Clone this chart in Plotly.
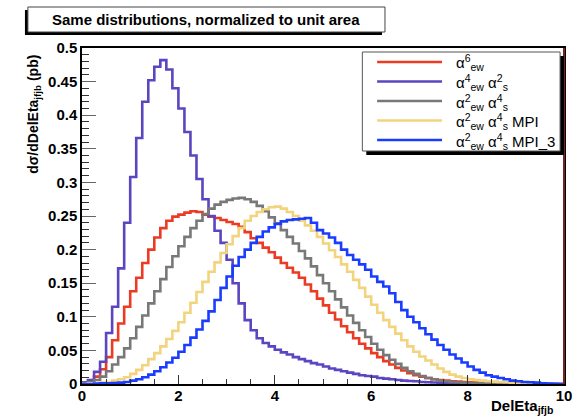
import numpy as np
import plotly.graph_objects as go

# ---- histogram contents (normalized to unit area), 80 bins on [0, 10] ----
BIN_WIDTH = 0.125
X_LO, X_HI = 0.0, 10.0

ew6 = [0.002, 0.005, 0.011, 0.022, 0.040, 0.065, 0.090, 0.115,
       0.138, 0.158, 0.180, 0.200, 0.218, 0.232, 0.243, 0.249,
       0.252, 0.255, 0.257, 0.256, 0.252, 0.249, 0.247, 0.244,
       0.241, 0.238, 0.234, 0.226, 0.217, 0.210, 0.203, 0.196,
       0.188, 0.180, 0.173, 0.166, 0.158, 0.148, 0.138, 0.127,
       0.117, 0.106, 0.096, 0.086, 0.077, 0.068, 0.060, 0.053,
       0.046, 0.040, 0.034, 0.029, 0.024, 0.020, 0.016, 0.013,
       0.011, 0.009, 0.007, 0.006, 0.005, 0.004, 0.0035, 0.003,
       0.0025, 0.002, 0.0017, 0.0014, 0.0012, 0.001, 0.0008, 0.0006,
       0.0005, 0.0004, 0.0003, 0.0002, 0.0002, 0.0001, 0.0001, 0.0]

ew4_s2 = [0.002, 0.006, 0.018, 0.033, 0.076, 0.115, 0.172, 0.240,
          0.308, 0.366, 0.420, 0.452, 0.472, 0.482, 0.468, 0.440,
          0.410, 0.375, 0.340, 0.305, 0.275, 0.250, 0.228, 0.210,
          0.185, 0.150, 0.120, 0.095, 0.080, 0.068, 0.061, 0.056,
          0.051, 0.047, 0.044, 0.040, 0.037, 0.034, 0.031, 0.029,
          0.026, 0.023, 0.021, 0.019, 0.017, 0.015, 0.013, 0.012,
          0.011, 0.009, 0.008, 0.007, 0.006, 0.005, 0.0045, 0.004,
          0.003, 0.0027, 0.0023, 0.002, 0.0017, 0.0014, 0.0012, 0.001,
          0.0008, 0.0007, 0.0006, 0.0005, 0.0004, 0.0003, 0.0003, 0.0002,
          0.0002, 0.0001, 0.0001, 0.0001, 0.0, 0.0, 0.0, 0.0]

ew2_s4 = [0.001, 0.003, 0.006, 0.011, 0.019, 0.029, 0.040, 0.053,
          0.068, 0.085, 0.102, 0.120, 0.138, 0.156, 0.174, 0.190,
          0.205, 0.219, 0.232, 0.243, 0.253, 0.261, 0.267, 0.271,
          0.274, 0.276, 0.277, 0.275, 0.271, 0.265, 0.257, 0.248,
          0.239, 0.229, 0.219, 0.209, 0.198, 0.187, 0.175, 0.162,
          0.150, 0.138, 0.126, 0.114, 0.102, 0.091, 0.080, 0.070,
          0.060, 0.051, 0.043, 0.036, 0.030, 0.024, 0.019, 0.015,
          0.012, 0.009, 0.007, 0.005, 0.004, 0.003, 0.0025, 0.002,
          0.0015, 0.0012, 0.001, 0.0008, 0.0006, 0.0005, 0.0004, 0.0003,
          0.0002, 0.0002, 0.0001, 0.0001, 0.0, 0.0, 0.0, 0.0]

ew2_s4_mpi = [0.0, 0.001, 0.001, 0.002, 0.003, 0.005, 0.007, 0.010,
              0.015, 0.021, 0.028, 0.037, 0.046, 0.056, 0.067, 0.079,
              0.092, 0.106, 0.121, 0.137, 0.152, 0.167, 0.181, 0.195,
              0.208, 0.220, 0.232, 0.243, 0.250, 0.256, 0.260, 0.263,
              0.264, 0.261, 0.256, 0.250, 0.243, 0.236, 0.228, 0.219,
              0.209, 0.199, 0.189, 0.178, 0.167, 0.155, 0.143, 0.130,
              0.118, 0.106, 0.095, 0.085, 0.075, 0.065, 0.056, 0.048,
              0.041, 0.035, 0.029, 0.023, 0.018, 0.014, 0.011, 0.009,
              0.007, 0.006, 0.005, 0.004, 0.0035, 0.003, 0.0025, 0.002,
              0.0015, 0.001, 0.0008, 0.0005, 0.0003, 0.0002, 0.0001, 0.0]

ew2_s4_mpi3 = [0.0, 0.0, 0.0005, 0.001, 0.001, 0.0015, 0.002, 0.003,
               0.005, 0.007, 0.010, 0.014, 0.019, 0.025, 0.032, 0.039,
               0.048, 0.058, 0.069, 0.081, 0.094, 0.108, 0.125, 0.143,
               0.160, 0.176, 0.189, 0.200, 0.210, 0.219, 0.227, 0.233,
               0.238, 0.242, 0.244, 0.245, 0.246, 0.247, 0.240, 0.229,
               0.224, 0.218, 0.210, 0.200, 0.192, 0.185, 0.178, 0.170,
               0.160, 0.152, 0.145, 0.135, 0.122, 0.110, 0.100, 0.092,
               0.083, 0.074, 0.066, 0.058, 0.051, 0.044, 0.038, 0.032,
               0.026, 0.021, 0.017, 0.013, 0.011, 0.009, 0.007, 0.005,
               0.004, 0.003, 0.0025, 0.002, 0.001, 0.0005, 0.0002, 0.0]

series = [
    ("ew6", ew6, "#ec3b24"),
    ("ew4_s2", ew4_s2, "#5b45c0"),
    ("ew2_s4", ew2_s4, "#787878"),
    ("ew2_s4_mpi", ew2_s4_mpi, "#f2d47e"),
    ("ew2_s4_mpi3", ew2_s4_mpi3, "#1a3cff"),
]

legend_labels = [
    "α<sup>6</sup><sub>ew</sub>",
    "α<sup>4</sup><sub>ew</sub> α<sup>2</sup><sub>s</sub>",
    "α<sup>2</sup><sub>ew</sub> α<sup>4</sup><sub>s</sub>",
    "α<sup>2</sup><sub>ew</sub> α<sup>4</sup><sub>s</sub> MPI",
    "α<sup>2</sup><sub>ew</sub> α<sup>4</sup><sub>s</sub> MPI_3",
]

TITLE = "Same distributions, normalized to unit area"
X_TITLE = "DelEta<sub>jfjb</sub>"
Y_TITLE = "dσ/dDelEta<sub>jfjb</sub> (pb)"

# ---- page geometry (pixels) ----
W, H = 581, 417
ML, MR, MT, MB = 82, 9, 48, 33
PW, PH = W - ML - MR, H - MT - MB
FONT = "Liberation Sans"


def fx(xp):
    return (xp - ML) / PW


def fy(yp):
    return (H - MB - yp) / PH


def label(xp, yp, text, size, xanchor="left", bold=False, **kw):
    font = dict(family=FONT, size=size, color="black")
    if bold:
        font["weight"] = "bold"
    return dict(xref="paper", yref="paper", x=fx(xp), y=fy(yp), text=text,
                showarrow=False, xanchor=xanchor, yanchor="middle",
                borderpad=0, font=font, **kw)


fig = go.Figure()
for name, vals, color in series:
    edges = X_LO + BIN_WIDTH * np.arange(len(vals) + 1)
    fig.add_trace(go.Scatter(
        x=edges, y=list(vals) + [vals[-1]], mode="lines", name=name,
        line=dict(color=color, width=2.6, shape="hv"), showlegend=False,
        hoverinfo="skip"))

shapes = []
annotations = []

# title pave with shadow
shapes.append(dict(type="rect", xref="paper", yref="paper",
                   x0=fx(24), x1=fx(387), y0=fy(35), y1=fy(10),
                   fillcolor="black", line=dict(width=0), layer="above"))
shapes.append(dict(type="rect", xref="paper", yref="paper",
                   x0=fx(27), x1=fx(390), y0=fy(32), y1=fy(7),
                   fillcolor="white", line=dict(color="#444", width=1), layer="above"))
annotations.append(label(208, 19.5, TITLE, 15, xanchor="center", bold=True))

# axis titles
annotations.append(label(562, 406, X_TITLE, 15, xanchor="right", bold=True))
annotations.append(label(33, 114, Y_TITLE, 14, xanchor="center", bold=True,
                         textangle=-90))

# right edge of the frame
shapes.append(dict(type="line", xref="paper", yref="paper", x0=1, x1=1, y0=0, y1=1,
                   line=dict(color="#7a2222", width=2), layer="above"))

# legend box with shadow
shapes.append(dict(type="rect", xref="paper", yref="paper",
                   x0=fx(371), x1=fx(572), y0=fy(155), y1=fy(56),
                   fillcolor="black", line=dict(width=0), layer="above"))
shapes.append(dict(type="rect", xref="paper", yref="paper",
                   x0=fx(367), x1=fx(568), y0=fy(151), y1=fy(52),
                   fillcolor="white", line=dict(color="#555", width=1), layer="above"))

row_y = [62, 81.5, 101, 120.5, 140]
for text, (_, _, color), yrow in zip(legend_labels, series, row_y):
    shapes.append(dict(type="line", xref="paper", yref="paper",
                       x0=fx(382), x1=fx(448), y0=fy(yrow), y1=fy(yrow),
                       line=dict(color=color, width=2.6), layer="above"))
    annotations.append(label(461, yrow + 1, text, 15))

tickfont = dict(family=FONT, size=15, color="black", weight="bold")
fig.update_layout(
    width=W, height=H,
    margin=dict(l=ML, r=MR, t=MT, b=MB, pad=0),
    paper_bgcolor="white", plot_bgcolor="white",
    showlegend=False,
    shapes=shapes, annotations=annotations,
    xaxis=dict(range=[X_LO, X_HI], tick0=0, dtick=2, ticks="inside", ticklen=9,
               tickwidth=1, tickcolor="#333", showgrid=False, zeroline=False,
               showline=True, linecolor="black", linewidth=1.5, mirror=True,
               tickfont=tickfont, ticklabelstandoff=-3,
               minor=dict(dtick=0.5, tick0=0, ticks="inside", ticklen=5,
                          tickcolor="#333", tickwidth=1, showgrid=False)),
    yaxis=dict(range=[0, 0.5], tick0=0, dtick=0.05, ticks="inside", ticklen=14,
               tickwidth=1, tickcolor="#666", showgrid=False, zeroline=False,
               showline=True, linecolor="black", linewidth=1.5, mirror=True,
               tickfont=tickfont,
               minor=dict(dtick=0.01, tick0=0, ticks="inside", ticklen=7,
                          tickcolor="#333", tickwidth=1, showgrid=False)),
)

fig.write_html("out.html")
